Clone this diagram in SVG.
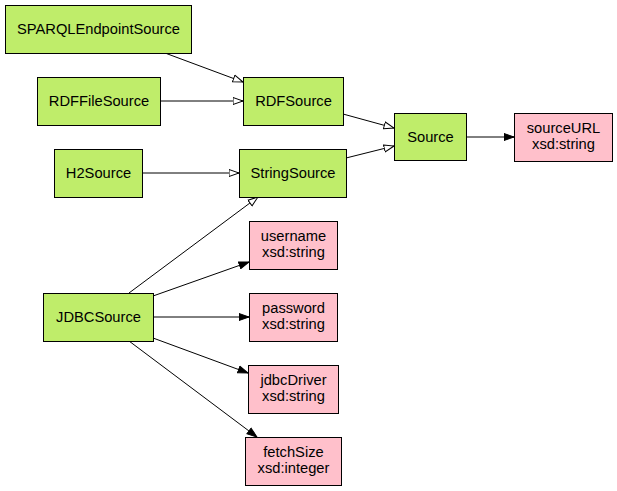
<svg xmlns="http://www.w3.org/2000/svg" width="617" height="491" viewBox="0 0 617 491">
<style>
.cls rect{fill:#bfed6a;stroke:#000;stroke-width:1}
.lit rect{fill:#ffc0cb;stroke:#000;stroke-width:1}
text{font-family:"Liberation Sans",Arial,sans-serif;font-size:14.7px;fill:#000;text-anchor:middle}
.edges path{fill:none;stroke:#000;stroke-width:1}
.sub{marker-end:url(#hollow)}
.prop{marker-end:url(#filled)}
</style>
<defs>
<marker id="hollow" markerUnits="userSpaceOnUse" markerWidth="12" markerHeight="9" refX="10.5" refY="4.5" orient="auto" viewBox="0 0 12 9">
<path d="M0.5,1 L10.5,4.5 L0.5,8 Z" fill="#fff" stroke="#000" stroke-width="1"/>
</marker>
<marker id="filled" markerUnits="userSpaceOnUse" markerWidth="12" markerHeight="9" refX="10.5" refY="4.5" orient="auto" viewBox="0 0 12 9">
<path d="M0.5,1 L10.5,4.5 L0.5,8 Z" fill="#000" stroke="#000" stroke-width="1"/>
</marker>
</defs>
<rect width="617" height="491" fill="#fff"/>
<g class="edges">
<path class="sub" d="M165,53 L243,82"/>
<path class="sub" d="M160,101 L243,101"/>
<path class="sub" d="M142,173 L239,173"/>
<path class="sub" d="M343,114 L394,128"/>
<path class="sub" d="M346,158 L394,146"/>
<path class="prop" d="M466,137 L514,137"/>
<path class="sub" d="M129,293 L258,197"/>
<path class="prop" d="M153,296 L249,262"/>
<path class="prop" d="M153,317 L249,317"/>
<path class="prop" d="M153,338 L248,373"/>
<path class="prop" d="M129,341 L257,437"/>
</g>
<g id="SPARQLEndpointSource" class="cls"><rect x="5.5" y="5.5" width="186" height="48"/><text x="98.5" y="34">SPARQLEndpointSource</text></g>
<g id="RDFFileSource" class="cls"><rect x="37.5" y="77.5" width="123" height="48"/><text x="99" y="106">RDFFileSource</text></g>
<g id="H2Source" class="cls"><rect x="54.5" y="149.5" width="88" height="48"/><text x="98.5" y="178">H2Source</text></g>
<g id="RDFSource" class="cls"><rect x="243.5" y="77.5" width="100" height="48"/><text x="293.5" y="106">RDFSource</text></g>
<g id="StringSource" class="cls"><rect x="239.5" y="149.5" width="107" height="48"/><text x="293" y="178">StringSource</text></g>
<g id="Source" class="cls"><rect x="394.5" y="113.5" width="72" height="47"/><text x="430.5" y="142">Source</text></g>
<g id="sourceURL" class="lit"><rect x="514.5" y="113.5" width="98" height="48"/><text x="563.5" y="133">sourceURL</text><text x="563.5" y="149">xsd:string</text></g>
<g id="JDBCSource" class="cls"><rect x="43.5" y="293.5" width="110" height="48"/><text x="98.5" y="322">JDBCSource</text></g>
<g id="username" class="lit"><rect x="249.5" y="221.5" width="88" height="48"/><text x="293.5" y="241">username</text><text x="293.5" y="257">xsd:string</text></g>
<g id="password" class="lit"><rect x="249.5" y="293.5" width="88" height="48"/><text x="293.5" y="313">password</text><text x="293.5" y="329">xsd:string</text></g>
<g id="jdbcDriver" class="lit"><rect x="248.5" y="365.5" width="90" height="48"/><text x="293.5" y="385">jdbcDriver</text><text x="293.5" y="401">xsd:string</text></g>
<g id="fetchSize" class="lit"><rect x="245.5" y="437.5" width="96" height="48"/><text x="293.5" y="457">fetchSize</text><text x="293.5" y="473">xsd:integer</text></g>
</svg>
